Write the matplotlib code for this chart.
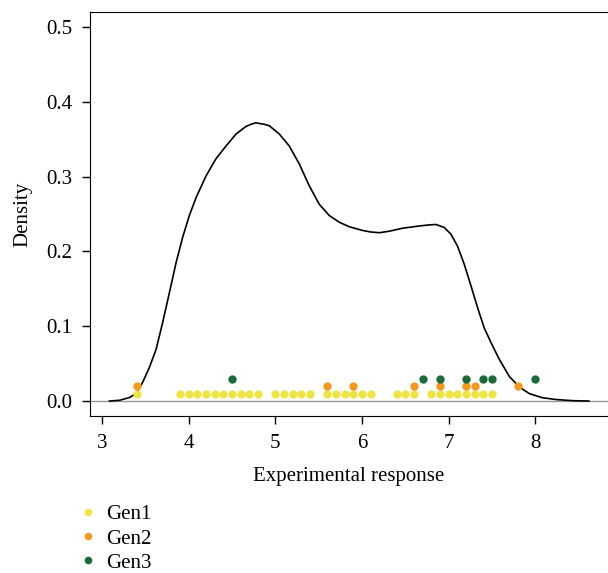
import matplotlib
matplotlib.use("Agg")
import matplotlib.pyplot as plt
from matplotlib.lines import Line2D

# density curve
curve_x = [3.085, 3.2, 3.315, 3.392, 3.468, 3.546, 3.623, 3.699, 3.777, 3.854, 3.930,
           4.007, 4.085, 4.20, 4.315, 4.431, 4.546, 4.66, 4.72, 4.777, 4.815, 4.87, 4.93,
           5.045, 5.16, 5.276, 5.39, 5.507, 5.622, 5.738, 5.853, 6.007, 6.10, 6.2, 6.315,
           6.468, 6.66, 6.78, 6.854, 6.95, 7.027, 7.103, 7.18, 7.258, 7.334, 7.41, 7.49,
           7.584, 7.70, 7.815, 7.93, 8.08, 8.24, 8.43, 8.62]
curve_y = [0.0, 0.001, 0.0046, 0.010, 0.025, 0.045, 0.069, 0.105, 0.145, 0.185, 0.219,
           0.248, 0.272, 0.301, 0.324, 0.341, 0.357, 0.367, 0.370, 0.372, 0.371, 0.370, 0.368,
           0.357, 0.341, 0.317, 0.288, 0.263, 0.248, 0.239, 0.233, 0.228, 0.226, 0.225, 0.227,
           0.231, 0.234, 0.2355, 0.236, 0.232, 0.223, 0.207, 0.183, 0.154, 0.125, 0.098, 0.078,
           0.056, 0.033, 0.019, 0.010, 0.0045, 0.002, 0.0005, 0.0]

gen1 = [3.4, 3.9, 4.0, 4.1, 4.2, 4.3, 4.4, 4.5, 4.6, 4.7, 4.8, 5.0, 5.1, 5.2, 5.3, 5.4,
        5.6, 5.7, 5.8, 5.9, 6.0, 6.1, 6.4, 6.5, 6.6, 6.8, 6.9, 7.0, 7.1, 7.2, 7.3, 7.4, 7.5]
gen2 = [3.4, 5.6, 5.9, 6.6, 6.9, 7.2, 7.3, 7.8]
gen3 = [4.5, 6.7, 6.9, 7.2, 7.4, 7.5, 8.0]
groups = ["Gen1", "Gen2", "Gen3"]
group_levels = [0.01, 0.02, 0.03]
colors = ["#EEE545", "#F39A1E", "#1B6A3A"]

x_ticks = [3, 4, 5, 6, 7, 8]
y_ticks = [0.0, 0.1, 0.2, 0.3, 0.4, 0.5]

plt.rcParams["font.family"] = ["Liberation Serif", "DejaVu Serif"]

fig = plt.figure(figsize=(6.08, 5.73), dpi=100)
ax = fig.add_axes([0.148, 0.274, 0.852, 0.705])

ax.axhline(0, color="#999999", lw=1, zorder=1)
ax.plot(curve_x, curve_y, color="black", lw=1.2, zorder=2)

for vals, level, col in zip([gen1, gen2, gen3], group_levels, colors):
    ax.plot(vals, [level] * len(vals), "o", color=col, ms=6, mec="none", zorder=3)

ax.set_xlim(2.86, 8.84)
ax.set_ylim(-0.02, 0.52)
ax.set_xticks(x_ticks)
ax.set_yticks(y_ticks)
ax.set_yticklabels([f"{v:.1f}" for v in y_ticks])
ax.spines["right"].set_visible(False)
ax.tick_params(direction="out", length=6, width=1, labelsize=15, pad=7)
ax.set_xlabel("Experimental response", fontsize=15, labelpad=10)
ax.set_ylabel("Density", fontsize=15, labelpad=10)

handles = [Line2D([], [], ls="none", marker="o", color=c, ms=5.5, mec="none") for c in colors]
fig.legend(handles, groups, loc="upper left", bbox_to_anchor=(0.128, 0.119),
           frameon=False, fontsize=15, handlelength=1.0, handletextpad=0.35,
           labelspacing=0.22, borderpad=0, borderaxespad=0)

fig.savefig("out.png", dpi=100)
